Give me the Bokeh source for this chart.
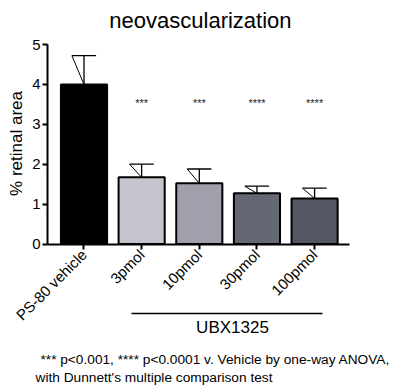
import math
from bokeh.plotting import figure
from bokeh.models import Label, Arrow, FixedTicker, Range1d
from bokeh.core.properties import value
from bokeh.embed import file_html
from bokeh.resources import INLINE

title = "neovascularization"
categories = ["PS-80 vehicle", "3pmol", "10pmol", "30pmol", "100pmol"]
means = [4.00, 1.67, 1.52, 1.27, 1.14]
errors = [0.72, 0.33, 0.36, 0.18, 0.26]
stars = ["", "***", "***", "****", "****"]
colors = ["#000000", "#c4c4cc", "#a0a0ac", "#646874", "#535762"]
group_label = "UBX1325"
y_label = "% retinal area"
y_ticks = [0, 1, 2, 3, 4, 5]
footnote = ["*** p<0.001, **** p<0.0001 v. Vehicle by one-way ANOVA,",
            "with Dunnett's multiple comparison test"]

FONT = "Liberation Sans"
xs = list(range(len(categories)))
X0, X1 = -0.633, 4.605   # extent of the category axis
Y0, Y1 = 0, 5            # extent of the value axis

p = figure(width=401, height=391, output_backend="svg", toolbar_location=None,
           x_range=Range1d(-1.4484, 5.5074), y_range=Range1d(-3.6967, 6.1028),
           min_border=0)
p.outline_line_color = None
p.grid.visible = False
p.background_fill_color = "white"

p.vbar(x=xs, top=means, width=0.8, bottom=0, fill_color=colors,
       line_color="black", line_width=2)

tops = [m + e for m, e in zip(means, errors)]
cap = 0.21
p.segment(x0=xs, y0=means, x1=xs, y1=tops, line_color="black", line_width=1.3)
p.segment(x0=[x - cap for x in xs], y0=tops, x1=[x + cap for x in xs], y1=tops,
          line_color="black", line_width=1.3)
p.segment(x0=[x - cap for x in xs], y0=tops, x1=xs, y1=means,
          line_color="black", line_width=1.0)

p.text(x=xs, y=[3.54] * len(xs), text=stars, text_font=value(FONT),
       text_font_size="11px", text_align="center", text_baseline="middle",
       text_color="#222222")

# axes (fixed at the data origin, with bounded extents)
p.xaxis.fixed_location = Y0
p.xaxis.bounds = (X0, X1)
p.yaxis.fixed_location = X0
p.yaxis.bounds = (Y0, Y1)
for ax in (p.xaxis, p.yaxis):
    ax.axis_line_width = 2
    ax.axis_line_color = "black"
    ax.major_tick_line_width = 2
    ax.major_tick_in = 0
    ax.major_tick_out = 5
    ax.minor_tick_line_color = None
    ax.major_label_text_font = FONT
    ax.major_label_text_color = "black"

p.yaxis.ticker = FixedTicker(ticks=y_ticks)
p.yaxis.major_label_text_font_size = "15px"
p.yaxis.major_label_standoff = 2

p.xaxis.ticker = FixedTicker(ticks=xs)
p.xaxis.major_label_overrides = {x: c for x, c in zip(xs, categories)}
p.xaxis.major_label_orientation = 0.785398
p.xaxis.major_label_text_font_size = "15px"
p.xaxis.major_label_standoff = 3

# y axis title
p.add_layout(Label(x=-1.171, y=2.519, text=y_label, angle=math.pi / 2,
                   text_font=FONT, text_font_size="17px", text_align="center",
                   text_baseline="middle", text_color="black"))

# title
p.add_layout(Label(x=2.02, y=5.60, text=title, text_font=FONT,
                   text_font_size="22px", text_align="center",
                   text_baseline="middle", text_color="black"))

# group bracket
p.add_layout(Arrow(end=None, start=None, x_start=0.824, y_start=-1.742,
                   x_end=4.137, y_end=-1.742, line_width=1.5, line_color="black"))
p.add_layout(Label(x=2.576, y=-2.093, text=group_label, text_font=FONT,
                   text_font_size="17px", text_align="center",
                   text_baseline="middle", text_color="black"))

# footnote
p.add_layout(Label(x=-0.755, y=-2.895, text=footnote[0], text_font=FONT,
                   text_font_size="13.7px", text_align="left",
                   text_baseline="middle", text_color="black"))
p.add_layout(Label(x=-0.841, y=-3.346, text=footnote[1], text_font=FONT,
                   text_font_size="13.7px", text_align="left",
                   text_baseline="middle", text_color="black"))

open("out.html", "w").write(file_html(p, INLINE))
